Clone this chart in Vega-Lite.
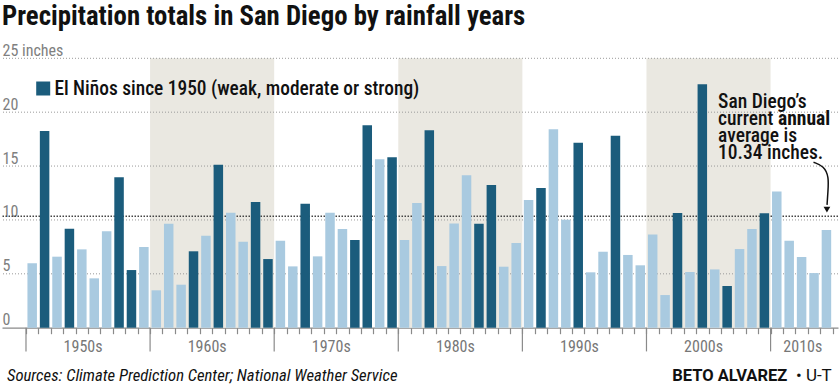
{
  "$schema": "https://vega.github.io/schema/vega-lite/v6.json",
  "width": 836,
  "height": 269.4,
  "autosize": "none",
  "padding": {"left": 2, "top": 58.3, "right": 2, "bottom": 58.3},
  "background": "white",
  "config": {"view": {"stroke": null}, "font": "Roboto Condensed"},
  "title": {
    "text": "Precipitation totals in San Diego by rainfall years",
    "anchor": "start",
    "frame": "group",
    "font": "Roboto Condensed",
    "fontSize": 26.8,
    "fontWeight": "bold",
    "color": "#111111",
    "baseline": "alphabetic",
    "offset": -9
  },
  "datasets": {
    "rain": [
      {"year": 1950, "inches": 5.97, "type": "Other"},
      {"year": 1951, "inches": 18.25, "type": "El Niño"},
      {"year": 1952, "inches": 6.59, "type": "Other"},
      {"year": 1953, "inches": 9.19, "type": "El Niño"},
      {"year": 1954, "inches": 7.27, "type": "Other"},
      {"year": 1955, "inches": 4.58, "type": "Other"},
      {"year": 1956, "inches": 8.94, "type": "Other"},
      {"year": 1957, "inches": 13.95, "type": "El Niño"},
      {"year": 1958, "inches": 5.35, "type": "El Niño"},
      {"year": 1959, "inches": 7.49, "type": "Other"},
      {"year": 1960, "inches": 3.47, "type": "Other"},
      {"year": 1961, "inches": 9.65, "type": "Other"},
      {"year": 1962, "inches": 3.99, "type": "Other"},
      {"year": 1963, "inches": 7.09, "type": "El Niño"},
      {"year": 1964, "inches": 8.54, "type": "Other"},
      {"year": 1965, "inches": 15.13, "type": "El Niño"},
      {"year": 1966, "inches": 10.67, "type": "Other"},
      {"year": 1967, "inches": 7.98, "type": "Other"},
      {"year": 1968, "inches": 11.66, "type": "El Niño"},
      {"year": 1969, "inches": 6.37, "type": "El Niño"},
      {"year": 1970, "inches": 8.08, "type": "Other"},
      {"year": 1971, "inches": 5.69, "type": "Other"},
      {"year": 1972, "inches": 11.51, "type": "El Niño"},
      {"year": 1973, "inches": 6.62, "type": "Other"},
      {"year": 1974, "inches": 10.67, "type": "Other"},
      {"year": 1975, "inches": 9.16, "type": "Other"},
      {"year": 1976, "inches": 8.14, "type": "El Niño"},
      {"year": 1977, "inches": 18.78, "type": "El Niño"},
      {"year": 1978, "inches": 15.63, "type": "Other"},
      {"year": 1979, "inches": 15.81, "type": "El Niño"},
      {"year": 1980, "inches": 8.14, "type": "Other"},
      {"year": 1981, "inches": 11.57, "type": "Other"},
      {"year": 1982, "inches": 18.32, "type": "El Niño"},
      {"year": 1983, "inches": 5.72, "type": "Other"},
      {"year": 1984, "inches": 9.68, "type": "Other"},
      {"year": 1985, "inches": 14.14, "type": "Other"},
      {"year": 1986, "inches": 9.65, "type": "El Niño"},
      {"year": 1987, "inches": 13.24, "type": "El Niño"},
      {"year": 1988, "inches": 5.66, "type": "Other"},
      {"year": 1989, "inches": 7.86, "type": "Other"},
      {"year": 1990, "inches": 11.85, "type": "Other"},
      {"year": 1991, "inches": 12.96, "type": "El Niño"},
      {"year": 1992, "inches": 18.41, "type": "Other"},
      {"year": 1993, "inches": 10.02, "type": "Other"},
      {"year": 1994, "inches": 17.17, "type": "El Niño"},
      {"year": 1995, "inches": 5.14, "type": "Other"},
      {"year": 1996, "inches": 7.05, "type": "Other"},
      {"year": 1997, "inches": 17.82, "type": "El Niño"},
      {"year": 1998, "inches": 6.75, "type": "Other"},
      {"year": 1999, "inches": 5.79, "type": "Other"},
      {"year": 2000, "inches": 8.66, "type": "Other"},
      {"year": 2001, "inches": 3.03, "type": "Other"},
      {"year": 2002, "inches": 10.64, "type": "El Niño"},
      {"year": 2003, "inches": 5.17, "type": "Other"},
      {"year": 2004, "inches": 22.59, "type": "El Niño"},
      {"year": 2005, "inches": 5.41, "type": "Other"},
      {"year": 2006, "inches": 3.87, "type": "El Niño"},
      {"year": 2007, "inches": 7.30, "type": "Other"},
      {"year": 2008, "inches": 9.16, "type": "Other"},
      {"year": 2009, "inches": 10.61, "type": "El Niño"},
      {"year": 2010, "inches": 12.65, "type": "Other"},
      {"year": 2011, "inches": 8.08, "type": "Other"},
      {"year": 2012, "inches": 6.56, "type": "Other"},
      {"year": 2013, "inches": 5.07, "type": "Other"},
      {"year": 2014, "inches": 9.07, "type": "Other"}
    ],
    "bands": [
      {"start": 1959.5, "end": 1969.5},
      {"start": 1979.5, "end": 1989.5},
      {"start": 1999.5, "end": 2009.5}
    ],
    "edges": [{"b": 1949.5}, {"b": 1959.5}, {"b": 1969.5}, {"b": 1979.5}, {"b": 1989.5}, {"b": 1999.5}, {"b": 2009.5}],
    "grid": [{"v": 5}, {"v": 10}, {"v": 15}, {"v": 20}, {"v": 25}],
    "average": [{"v": 10.34}],
    "arrow": [
      {"x": 2012.96, "y": 15.35},
      {"x": 2013.8, "y": 15.0},
      {"x": 2014.2, "y": 14.0},
      {"x": 2014.12, "y": 12.6},
      {"x": 2014.05, "y": 11.4}
    ],
    "arrowhead": [{"x": 2014.04, "y": 10.95}],
    "one": [{}]
  },
  "layer": [
    {
      "data": {"name": "bands"},
      "mark": {"type": "rect", "color": "#eae8e1"},
      "encoding": {
        "x": {"field": "start", "type": "quantitative", "scale": {"domain": [1947.97, 2014.53], "nice": false, "zero": false}, "axis": {"title": null}},
        "x2": {"field": "end"},
        "y": {"datum": 0, "type": "quantitative", "scale": {"domain": [0, 25], "nice": false}, "axis": {"title": null}},
        "y2": {"datum": 25}
      }
    },
    {
      "data": {"name": "grid"},
      "mark": {"type": "rule", "color": "#9a9a9a", "strokeDash": [1, 2], "strokeWidth": 1},
      "encoding": {
        "y": {"field": "v", "type": "quantitative", "axis": {"title": null}}
      }
    },
    {
      "data": {"name": "average"},
      "mark": {"type": "rule", "color": "#444444", "strokeDash": [1.5, 1.5], "strokeWidth": 1.4},
      "encoding": {
        "y": {"field": "v", "type": "quantitative", "axis": {"title": null}}
      }
    },
    {
      "data": {"name": "edges"},
      "mark": {"type": "rule", "color": "#8a8a8a", "strokeWidth": 1.2},
      "encoding": {
        "x": {"field": "b", "type": "quantitative", "axis": {"title": null}},
        "y": {"datum": 0, "type": "quantitative"},
        "y2": {"datum": -2.2}
      }
    },
    {
      "data": {"name": "rain"},
      "mark": {"type": "bar", "size": 9.5},
      "encoding": {
        "x": {
          "field": "year",
          "type": "quantitative",
          "axis": {
            "title": null,
            "tickCount": 200,
            "values": [1949.5,1950.5,1951.5,1952.5,1953.5,1954.5,1955.5,1956.5,1957.5,1958.5,1959.5,1960.5,1961.5,1962.5,1963.5,1964.5,1965.5,1966.5,1967.5,1968.5,1969.5,1970.5,1971.5,1972.5,1973.5,1974.5,1975.5,1976.5,1977.5,1978.5,1979.5,1980.5,1981.5,1982.5,1983.5,1984.5,1985.5,1986.5,1987.5,1988.5,1989.5,1990.5,1991.5,1992.5,1993.5,1994.5,1995.5,1996.5,1997.5,1998.5,1999.5,2000.5,2001.5,2002.5,2003.5,2004.5,2005.5,2006.5,2007.5,2008.5,2009.5,2010.5,2011.5,2012.5,2013.5,2014.5],
            "domainColor": "#8a8a8a",
            "domainWidth": 1.2,
            "tickColor": "#8a8a8a",
            "tickWidth": 1.2,
            "tickSize": 6,
            "labelExpr": "datum.value == 1954.5 ? '1950s' : datum.value == 1964.5 ? '1960s' : datum.value == 1974.5 ? '1970s' : datum.value == 1984.5 ? '1980s' : datum.value == 1994.5 ? '1990s' : datum.value == 2004.5 ? '2000s' : datum.value == 2012.5 ? '2010s' : ''",
            "labelFont": "Roboto Condensed",
            "labelFontSize": 16,
            "labelColor": "#777777",
            "labelOffset": -5.5,
            "labelPadding": 18,
            "labelBaseline": "alphabetic",
            "labelFlush": false,
            "labelOverlap": false,
            "grid": false
          }
        },
        "y": {
          "field": "inches",
          "type": "quantitative",
          "axis": {
            "title": null,
            "values": [0, 5, 10, 15, 20, 25],
            "grid": false,
            "domain": false,
            "ticks": false,
            "tickSize": 0,
            "labelAlign": "left",
            "labelBaseline": "alphabetic",
            "labelPadding": 0,
            "labelOffset": -3,
            "labelFont": "Roboto Condensed",
            "labelFontSize": 16,
            "labelColor": "#808080",
            "labelExpr": "datum.value == 25 ? '25 inches' : datum.label"
          }
        },
        "color": {
          "field": "type",
          "type": "nominal",
          "scale": {"domain": ["El Niño", "Other"], "range": ["#1b5c7c", "#a9cae0"]},
          "legend": {
            "values": ["El Niño"],
            "orient": "none",
            "legendX": 31.5,
            "legendY": 20.5,
            "title": null,
            "padding": 0,
            "symbolType": "square",
            "symbolSize": 196,
            "symbolStrokeWidth": 0,
            "symbolOpacity": 1,
            "labelFont": "Roboto Condensed",
            "labelFontSize": 19.4,
            "labelFontWeight": 500,
            "labelColor": "#111111",
            "labelOffset": 1.5,
            "labelLimit": 0,
            "labelExpr": "'El Niños since 1950 (weak, moderate or strong)'"
          }
        }
      }
    },
    {
      "data": {"name": "one"},
      "mark": {"type": "text", "text": ["San Diego’s", "current", "average is", "10.34 inches."], "align": "left", "baseline": "alphabetic", "fontSize": 19.5, "fontWeight": 500, "lineHeight": 17.2, "color": "#111111", "font": "Roboto Condensed"},
      "encoding": {
        "x": {"datum": 2005.27, "type": "quantitative"},
        "y": {"datum": 20.42, "type": "quantitative"}
      }
    },
    {
      "data": {"name": "one"},
      "mark": {"type": "text", "text": "annual", "align": "left", "baseline": "alphabetic", "fontSize": 19.5, "fontWeight": "bold", "color": "#111111", "font": "Roboto Condensed"},
      "encoding": {
        "x": {"datum": 2010.1, "type": "quantitative"},
        "y": {"datum": 18.824, "type": "quantitative"}
      }
    },
    {
      "data": {"name": "arrow"},
      "mark": {"type": "line", "interpolate": "basis", "color": "#111111", "strokeWidth": 1.5},
      "encoding": {
        "x": {"field": "x", "type": "quantitative"},
        "y": {"field": "y", "type": "quantitative"},
        "order": {"value": null}
      }
    },
    {
      "data": {"name": "arrowhead"},
      "mark": {"type": "point", "shape": "triangle-down", "filled": true, "color": "#111111", "size": 45, "opacity": 1},
      "encoding": {
        "x": {"field": "x", "type": "quantitative"},
        "y": {"field": "y", "type": "quantitative"}
      }
    },
    {
      "data": {"name": "one"},
      "mark": {"type": "text", "text": "Sources: Climate Prediction Center; National Weather Service", "align": "left", "baseline": "alphabetic", "fontSize": 16.7, "fontStyle": "italic", "color": "#111111", "font": "Roboto Condensed"},
      "encoding": {
        "x": {"datum": 1947.97, "type": "quantitative"},
        "y": {"datum": -4.95, "type": "quantitative"}
      }
    },
    {
      "data": {"name": "one"},
      "mark": {"type": "text", "text": "• U-T", "align": "right", "baseline": "alphabetic", "fontSize": 17, "color": "#111111", "font": "Roboto"},
      "encoding": {
        "x": {"datum": 2014.43, "type": "quantitative"},
        "y": {"datum": -4.95, "type": "quantitative"}
      }
    },
    {
      "data": {"name": "one"},
      "mark": {"type": "text", "text": "BETO ALVAREZ", "align": "right", "baseline": "alphabetic", "fontSize": 16.5, "fontWeight": "bold", "color": "#111111", "font": "Roboto"},
      "encoding": {
        "x": {"datum": 2010.85, "type": "quantitative"},
        "y": {"datum": -4.95, "type": "quantitative"}
      }
    }
  ]
}
